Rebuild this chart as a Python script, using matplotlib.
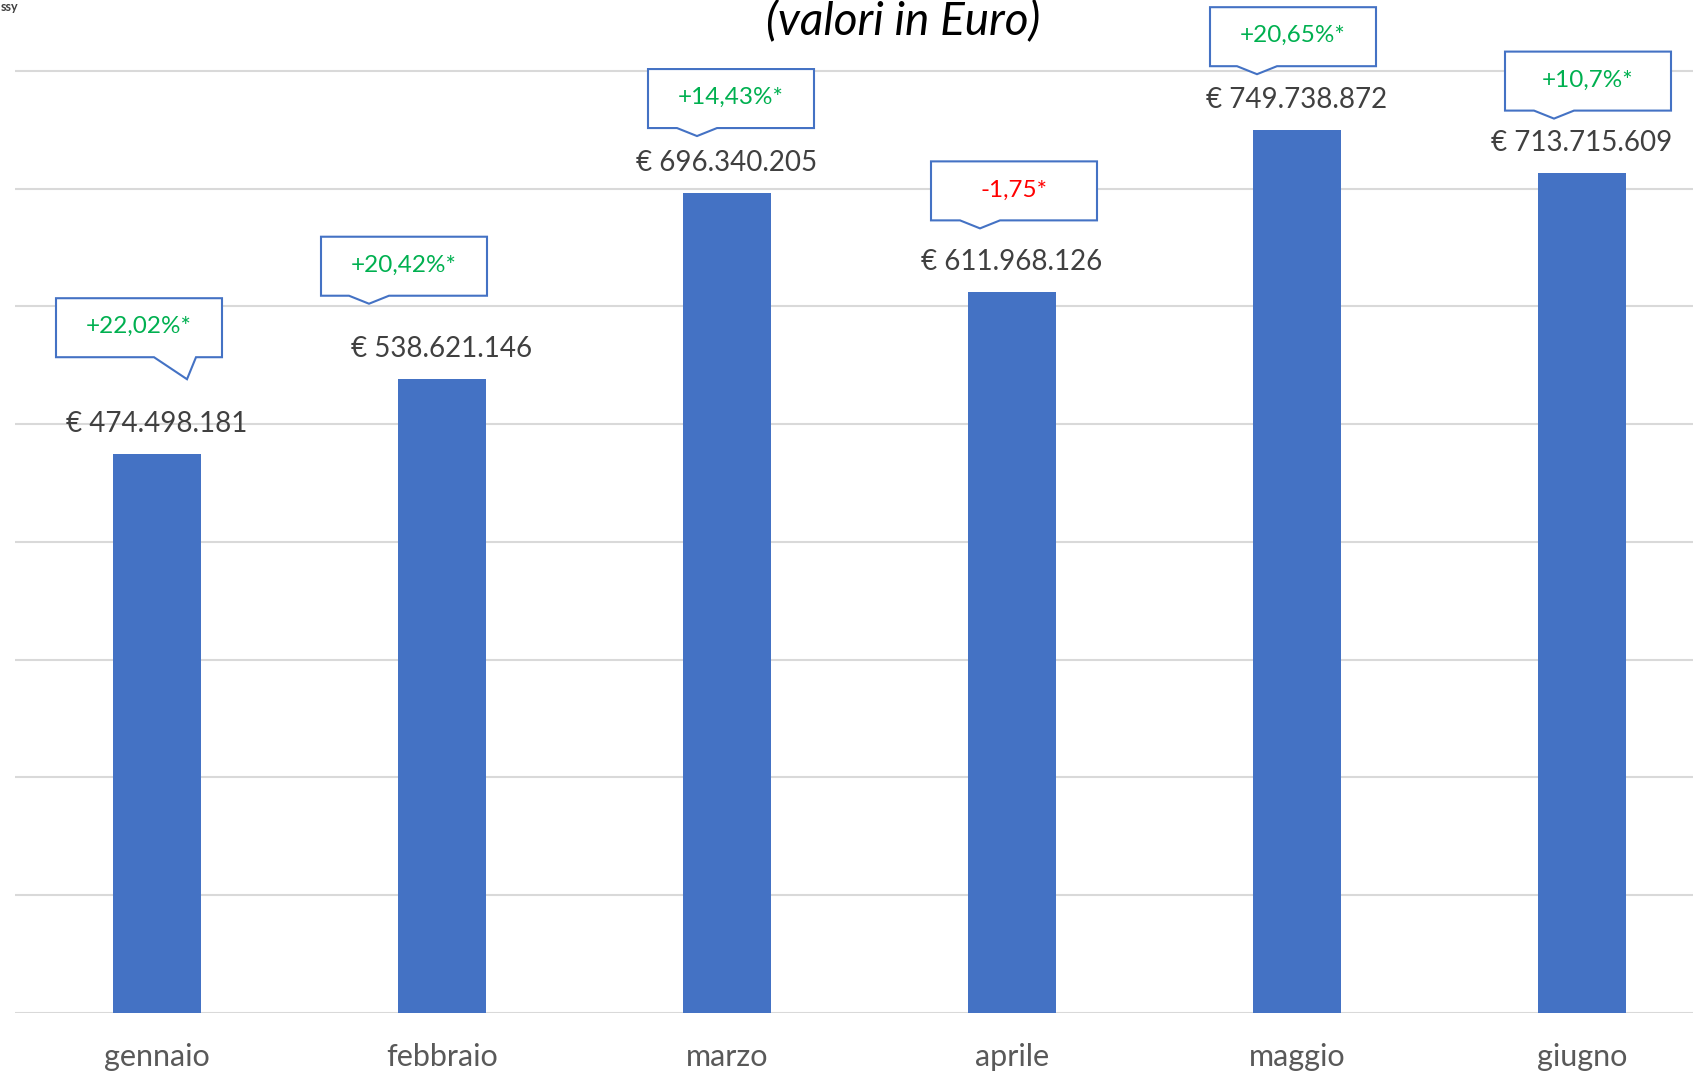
import numpy as np
import matplotlib
matplotlib.use("Agg")
import matplotlib.pyplot as plt
from matplotlib.patches import Polygon

# ---------------- data ----------------
months = ["gennaio", "febbraio", "marzo", "aprile", "maggio", "giugno"]
values = [474498181, 538621146, 696340205, 611968126, 749738872, 713715609]
changes = ["+22,02%*", "+20,42%*", "+14,43%*", "-1,75*", "+20,65%*", "+10,7%*"]
change_positive = [True, True, True, False, True, True]
title = "(valori in Euro)"
corner_text = "ssy"

# ---------------- layout (pixels) ----------------
W, H = 1693, 1072
# callout box: (dx of box centre from bar centre, gap box-bottom above bar top,
#               tip dx from box centre, tip depth below box bottom, base half width, base centre dx)
callout_layout = [
    (-18, 97, 48, 22, 21, 36),
    (-38, 83, -35, 8, 20, -35),
    (4, 65, -34, 8, 20, -34),
    (2, 72, -34, 8, 20, -34),
    (-4, 64, -36, 8, 20, -36),
    (6, 62, -34, 8, 20, -34),
]
BOX_W, BOX_H = 166, 59

FONT = "Lato"
plt.rcParams["font.family"] = [FONT, "DejaVu Sans"]

BAR_C = "#4472C4"
GRID_C = "#d9d9d9"
GREEN = "#00B050"
RED = "#FF0000"

fig = plt.figure(figsize=(W / 100, H / 100), dpi=100)
fig.patch.set_facecolor("white")
ax = fig.add_axes([14.5 / W, 59.2 / H, 1710 / W, 1059.5 / H])

x = np.arange(len(months))
ax.bar(x, values, width=0.31, color=BAR_C, zorder=3)

ax.set_xlim(-0.5, len(months) - 0.5)
ax.set_ylim(0, 900e6)
ax.set_yticks(np.arange(0, 900e6, 100e6))
ax.yaxis.grid(True, color=GRID_C, linewidth=1.5, zorder=0)
ax.tick_params(axis="y", left=False, labelleft=False)
ax.tick_params(axis="x", bottom=False, pad=18.5)
ax.set_xticks(x)
ax.set_xticklabels(months, fontsize=22, color="#595959")
for s in ax.spines.values():
    s.set_visible(False)

px = 0.72  # points per pixel at 100 dpi

# value labels
for i, v in enumerate(values):
    lab = "€ " + f"{v:,}".replace(",", ".")
    ax.annotate(lab, (i, v), xytext=(0, 30 * px), textcoords="offset points",
                ha="center", va="center", fontsize=20, color="#404040", zorder=5)

# callouts
for i, v in enumerate(values):
    axp, ayp = ax.transData.transform((i, v))
    dx, gap, tipdx, depth, half, bcx = callout_layout[i]
    cx = axp + dx
    bot = ayp + gap
    top = bot + BOX_H
    l, r = cx - BOX_W / 2, cx + BOX_W / 2
    tipx = cx + tipdx
    tipy = bot - depth
    bl = cx + bcx - half
    br = cx + bcx + half
    verts = [(l, top), (r, top), (r, bot), (br, bot), (tipx, tipy), (bl, bot), (l, bot)]
    verts = [(a / W, b / H) for a, b in verts]
    poly = Polygon(verts, closed=True, facecolor="white", edgecolor=BAR_C,
                   linewidth=1.5, joinstyle="miter", transform=fig.transFigure, zorder=6)
    fig.add_artist(poly)
    fig.text(cx / W, (bot + BOX_H / 2 + 1) / H, changes[i], ha="center", va="center",
             fontsize=17.5, color=GREEN if change_positive[i] else RED, zorder=7)

# title (partially cropped in the reference)
fig.text(903 / W, 1 - 21 / H, title, ha="center", va="center", fontsize=33,
         style="italic", color="black")
fig.text(1 / W, 1 - 7 / H, corner_text, ha="left", va="center", fontsize=9,
         fontweight="bold", color="#404040")

fig.savefig("out.png", dpi=100, facecolor="white")
